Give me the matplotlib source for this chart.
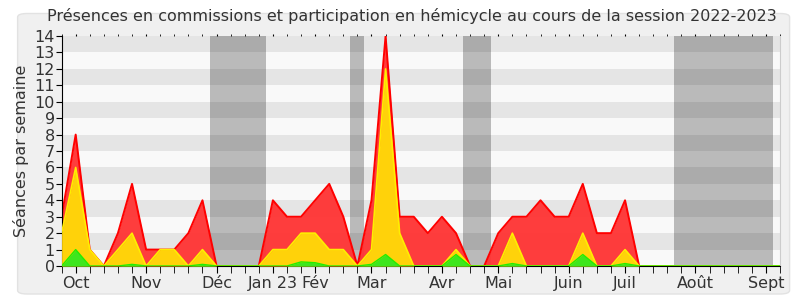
import matplotlib
matplotlib.use("Agg")
import matplotlib.pyplot as plt
from matplotlib.patches import FancyBboxPatch
import numpy as np

plt.rcParams['font.family'] = ['DejaVu Sans']

title = "Présences en commissions et participation en hémicycle au cours de la session 2022-2023"
ylabel = "Séances par semaine"

weeks = list(range(52))
red_vals = [3, 8, 1, 0, 2, 5, 1, 1, 1, 2, 4, 0, 0, 0, 0, 4, 3, 3, 4, 5, 3, 0, 4, 14, 3, 3,
            2, 3, 2, 0, 0, 2, 3, 3, 4, 3, 3, 5, 2, 2, 4, 0, 0, 0, 0, 0, 0, 0, 0, 0, 0, 0]
yellow_vals = [2, 6, 1, 0, 1, 2, 0, 1, 1, 0, 1, 0, 0, 0, 0, 1, 1, 2, 2, 1, 1, 0, 1, 12, 2, 0,
               0, 0, 1, 0, 0, 0, 2, 0, 0, 0, 0, 2, 0, 0, 1, 0, 0, 0, 0, 0, 0, 0, 0, 0, 0, 0]
green_vals = [0, 1, 0, 0, 0, 0.1, 0, 0, 0, 0, 0.1, 0, 0, 0, 0, 0, 0, 0.25, 0.2, 0, 0, 0, 0.1, 0.7, 0, 0,
              0, 0, 0.7, 0, 0, 0, 0.15, 0, 0, 0, 0, 0.7, 0, 0, 0.15, 0, 0, 0, 0, 0, 0, 0, 0, 0, 0, 0]

month_weeks = [1, 6, 11, 15, 18, 22, 27, 31, 36, 40, 45, 50]
month_labels = ["Oct", "Nov", "Déc", "Jan 23", "Fév", "Mar", "Avr", "Mai", "Juin", "Juil", "Août", "Sept"]

vacations = [(10.5, 14.5), (20.5, 21.5), (28.5, 30.5), (43.5, 50.5)]

fig = plt.figure(figsize=(8, 3), dpi=100)
fig.patch.set_facecolor('white')
bg = FancyBboxPatch((0.022, 0.02), 0.965, 0.935, boxstyle="round,pad=0.0,rounding_size=0.012",
                    transform=fig.transFigure, facecolor='#f0f0f0', edgecolor='#e2e2e2',
                    linewidth=1.0, zorder=-10)
fig.patches.append(bg)

ax = fig.add_axes([0.077, 0.1133, 0.898, 0.7667])
ax.set_facecolor('#f9f9f9')
ax.set_xlim(0, 51)
ax.set_ylim(0, 14)

# horizontal stripes
for k in range(1, 14, 2):
    ax.axhspan(k, k + 1, color='#e5e5e5', lw=0, zorder=0)
# vacation bands
for a, b in vacations:
    ax.axvspan(a, b, color='black', alpha=0.25, lw=0, zorder=1)

x = np.array(weeks)
ax.fill_between(x, red_vals, color='#ff3333', alpha=0.95, lw=0, zorder=2)
ax.plot(x, red_vals, color='#ff0000', lw=1.4, zorder=2.5)
ax.fill_between(x, yellow_vals, color='#ffd20a', lw=0, zorder=3)
ax.plot(x, yellow_vals, color='#ffee00', lw=1.2, zorder=3.5)
ax.fill_between(x, green_vals, color='#3ee61e', lw=0, zorder=4)
ax.plot(x, green_vals, color='#22ee00', lw=1.0, zorder=4.5)

ax.spines['top'].set_visible(False)
ax.spines['right'].set_color('#cccccc')
ax.spines['left'].set_color('black')
ax.spines['bottom'].set_color('black')

ax.set_yticks(range(0, 15))
ax.tick_params(axis='y', labelsize=11.5, length=4, color='black', labelcolor='#333333', pad=1)
ax.set_xticks(month_weeks)
ax.set_xticklabels(month_labels)
ax.set_xticks(range(0, 52), minor=True)
ax.tick_params(axis='x', which='major', labelsize=11.5, length=5, labelcolor='#333333', pad=2)
ax.tick_params(axis='x', which='minor', length=5, color='black')
ax.tick_params(axis='x', which='both', top=True, labeltop=False)
for t in ax.xaxis.get_major_ticks() + ax.xaxis.get_minor_ticks():
    t.tick2line.set_markersize(1.5)

ax.set_ylabel(ylabel, fontsize=11.5, color='#333333', labelpad=4)
fig.text(0.515, 0.945, title, ha='center', va='center', fontsize=11.5, color='#333333')

fig.savefig('out.png', dpi=100, facecolor=fig.get_facecolor())
